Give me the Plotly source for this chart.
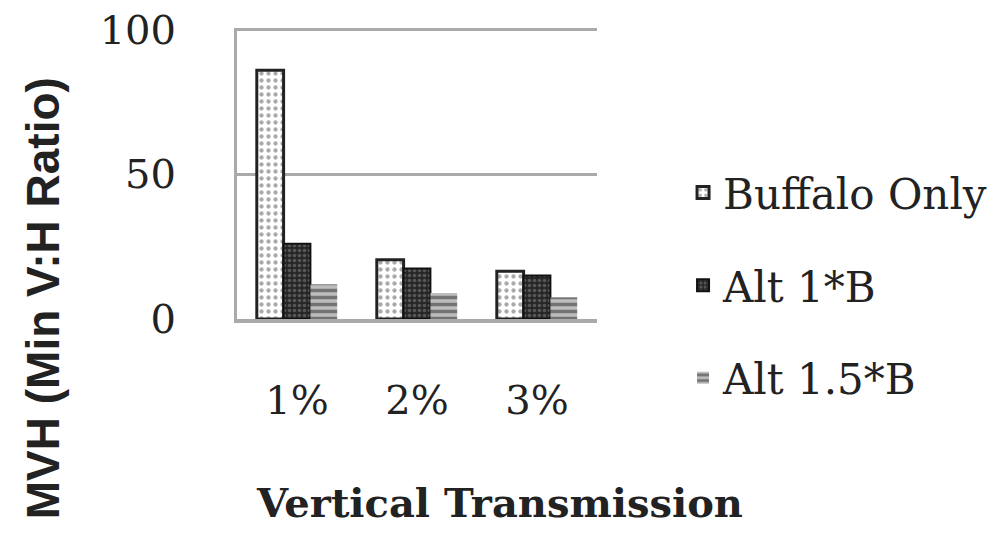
import plotly.graph_objects as go

categories = ["1%", "2%", "3%"]
buffalo_only = [86, 20.5, 16.5]
alt_1b = [26, 17.5, 15]
alt_15b = [12, 9, 7.5]
y_ticks = [0, 50, 100]

serif = "DejaVu Serif, Liberation Serif, serif"

fig = go.Figure()
fig.add_trace(go.Bar(
    x=categories, y=buffalo_only, name="Buffalo Only", legendgroup="a",
    marker=dict(color="white", line=dict(color="#222", width=3),
                pattern=dict(shape=".", fgcolor="#555", bgcolor="white", size=7, solidity=0.3)),
))
fig.add_trace(go.Bar(
    x=categories, y=alt_1b, name="Alt 1*B", legendgroup="b",
    marker=dict(color="#222", line=dict(color="#111", width=2),
                pattern=dict(shape=".", fgcolor="#888", bgcolor="#262626", size=5, solidity=0.4)),
))
fig.add_trace(go.Bar(
    x=categories, y=alt_15b, name="Alt 1.5*B", legendgroup="c",
    marker=dict(color="white", line=dict(color="#555", width=0),
                pattern=dict(shape="-", fgcolor="#2a2a2a", bgcolor="#bdbdbd", size=7, solidity=0.5)),
))

fig.update_layout(
    width=1000, height=540,
    paper_bgcolor="white", plot_bgcolor="white",
    margin=dict(l=229, r=411, t=20, b=229),
    barmode="group", bargap=0.33, bargroupgap=0,
    font=dict(family=serif, size=40, color="#222"),
    showlegend=True,
    legend=dict(x=1.239, y=0.116, xanchor="left", yanchor="middle",
                font=dict(family=serif, size=42, color="#222"),
                tracegroupgap=35, itemwidth=30, bgcolor="rgba(0,0,0,0)"),
)
fig.update_yaxes(range=[0, 100.6], tickvals=y_ticks, showgrid=True, gridcolor="#aaa", gridwidth=3,
                 showline=True, linecolor="#aaa", linewidth=3, zeroline=False, automargin=False,
                 ticklabeloverflow="allow",
                 ticks="", ticklabelstandoff=50, tickfont=dict(family=serif, size=40, color="#222"))
fig.update_xaxes(showline=True, linecolor="#aaa", linewidth=4, ticks="", ticklabelstandoff=43,
                 automargin=False, tickfont=dict(family=serif, size=40, color="#222"))

fig.add_annotation(text="<b>Vertical Transmission</b>", xref="paper", yref="paper",
                   x=0.728, y=-0.63, xanchor="center", yanchor="middle", showarrow=False,
                   font=dict(family=serif, size=40, color="#222"))
fig.add_annotation(text="<b>MVH (Min V:H Ratio)</b>", xref="paper", yref="paper",
                   x=-0.54, y=0.07, xanchor="center", yanchor="middle", showarrow=False,
                   textangle=-90,
                   font=dict(family="Liberation Sans, DejaVu Sans, sans-serif", size=46, color="#222"))

fig.write_html("out.html")
